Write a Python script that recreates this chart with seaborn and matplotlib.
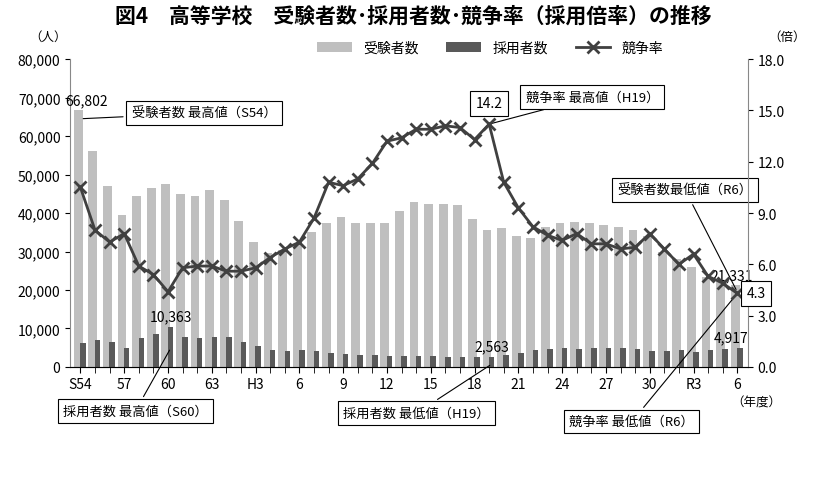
import numpy as np
import pandas as pd
import matplotlib.pyplot as plt
import seaborn as sns

plt.rcParams["font.family"] = "Noto Sans CJK JP"

years = ["S54", "S55", "S56", "S57", "S58", "S59", "S60", "S61", "S62", "S63"] + \
        [f"H{i}" for i in range(1, 31)] + [f"R{i}" for i in range(1, 7)]
applicants = [66802, 56000, 47000, 39500, 44500, 46500, 47500, 45000, 44500, 46000,
              43500, 38000, 32500, 29500, 30500, 32000, 35000, 37500, 39000, 37500,
              37300, 37500, 40500, 43000, 42300, 42300, 42000, 38500, 35500, 36200,
              34000, 33500, 36500, 37500, 37700, 37500, 37000, 36500, 35500, 34000,
              30000, 28000, 26000, 23500, 22000, 21331]
hires = [6300, 7000, 6400, 4900, 7500, 8500, 10363, 7700, 7500, 7700,
         7700, 6600, 5500, 4300, 4100, 4500, 4200, 3500, 3300, 3200,
         3000, 2900, 2900, 2800, 2800, 2700, 2700, 2600, 2563, 3000,
         3500, 4300, 4700, 5000, 4700, 4900, 4800, 4900, 4700, 4200,
         4200, 4300, 3900, 4400, 4600, 4917]
ratio = [10.5, 8.0, 7.3, 7.8, 5.9, 5.4, 4.4, 5.8, 5.9, 5.9,
         5.6, 5.6, 5.8, 6.4, 6.9, 7.3, 8.7, 10.8, 10.6, 11.0,
         11.9, 13.2, 13.4, 13.9, 13.9, 14.1, 14.0, 13.3, 14.2, 10.8,
         9.3, 8.2, 7.7, 7.4, 7.8, 7.2, 7.2, 6.9, 7.0, 7.8,
         6.9, 6.0, 6.6, 5.3, 4.9, 4.3]
tick_labels = ["S54", "57", "60", "63", "H3", "6", "9", "12", "15", "18",
               "21", "24", "27", "30", "R3", "6"]

n = len(years)
x = np.arange(n)
df = pd.DataFrame({"x": x, "app": applicants, "hire": hires, "ratio": ratio})

fig, ax = plt.subplots(figsize=(8.26, 4.81), dpi=100)
fig.subplots_adjust(left=0.085, right=0.905, top=0.875, bottom=0.235)

ax.bar(x - 0.15, df["app"], width=0.6, color="#bfbfbf", label="受験者数", zorder=2)
ax.bar(x + 0.17, df["hire"], width=0.38, color="#595959", label="採用者数", zorder=3)
ax.set_ylim(0, 80000)
ax.set_yticks(range(0, 80001, 10000))
ax.set_yticklabels([f"{v:,}" for v in range(0, 80001, 10000)], fontsize=10)
ax.set_xlim(-0.7, n - 0.3)
ax.set_xticks(x[::3])
ax.set_xticklabels(tick_labels, fontsize=10)
ax.set_xticks(x, minor=True)
ax.tick_params(axis="x", which="both", length=4)
for s in ["top", "right"]:
    ax.spines[s].set_visible(False)
ax.spines["left"].set_color("#888888")
ax.spines["bottom"].set_color("#888888")

ax2 = ax.twinx()
sns.lineplot(data=df, x="x", y="ratio", ax=ax2, color="#404040", linewidth=2,
             marker="x", markersize=8, markeredgewidth=2, mec="#404040", label="競争率", legend=False, zorder=4)
ax2.set_ylim(0, 18)
ax2.set_yticks(np.arange(0, 18.1, 3))
ax2.set_yticklabels([f"{v:.1f}" for v in np.arange(0, 18.1, 3)], fontsize=10)
ax2.set_ylabel("")
for s in ["top", "left"]:
    ax2.spines[s].set_visible(False)
ax2.spines["right"].set_color("#888888")

h1, l1 = ax.get_legend_handles_labels()
h2, l2 = ax2.get_legend_handles_labels()
ax.legend(h1 + h2, l1 + l2, loc="upper center", bbox_to_anchor=(0.62, 1.1), ncol=3,
          frameon=False, fontsize=10, handlelength=2.5)

fig.text(0.5, 0.952, "図4　高等学校　受験者数･採用者数･競争率（採用倍率）の推移",
         ha="center", fontsize=15, fontweight="bold")
fig.text(0.035, 0.915, "（人）", fontsize=9)
fig.text(0.93, 0.915, "（倍）", fontsize=9)
fig.text(0.885, 0.155, "（年度）", fontsize=9)

box = dict(boxstyle="square,pad=0.4", fc="white", ec="black", lw=0.8)
ax.text(0.4, applicants[0] + 800, f"{applicants[0]:,}", ha="center", va="bottom", fontsize=10)
ax.annotate("受験者数 最高値（S54）", xy=(0, 64500), xytext=(3.5, 66000), fontsize=9.5,
            va="center", bbox=box, arrowprops=dict(arrowstyle="-", lw=0.8))
ax.text(6.2, hires[6] + 900, f"{hires[6]:,}", ha="center", va="bottom", fontsize=10)
ax.annotate("採用者数 最高値（S60）", xy=(6.2, 5000), xytext=(-1.2, -11500), fontsize=9.5,
            va="center", bbox=box, arrowprops=dict(arrowstyle="-", lw=0.8), annotation_clip=False)
ax.text(28.2, hires[28] + 900, f"{hires[28]:,}", ha="center", va="bottom", fontsize=10)
ax.annotate("採用者数 最低値（H19）", xy=(28.2, 800), xytext=(18, -12000), fontsize=9.5,
            va="center", bbox=box, arrowprops=dict(arrowstyle="-", lw=0.8), annotation_clip=False)
ax.text(44.6, applicants[-1] + 700, f"{applicants[-1]:,}", ha="center", va="bottom", fontsize=10)
ax.text(44.6, hires[-1] + 900, f"{hires[-1]:,}", ha="center", va="bottom", fontsize=10)
ax.annotate("受験者数最低値（R6）", xy=(45, 19500), xytext=(36.8, 46000), fontsize=9.5,
            va="center", bbox=box, arrowprops=dict(arrowstyle="-", lw=0.8))
ax2.annotate("競争率 最高値（H19）", xy=(28, 14.2), xytext=(30.5, 15.8), fontsize=9.5,
             va="center", bbox=box, arrowprops=dict(arrowstyle="-", lw=0.8))
ax2.text(28, 15.0, "14.2", ha="center", va="bottom", fontsize=10, bbox=box)
ax2.text(46.3, 4.3, "4.3", ha="center", va="center", fontsize=10, bbox=box, zorder=6)
ax2.annotate("競争率 最低値（R6）", xy=(45, 4.3), xytext=(33.5, -3.2), fontsize=9.5,
             va="center", bbox=box, arrowprops=dict(arrowstyle="-", lw=0.8), annotation_clip=False)

fig.savefig("out.png", dpi=100)
